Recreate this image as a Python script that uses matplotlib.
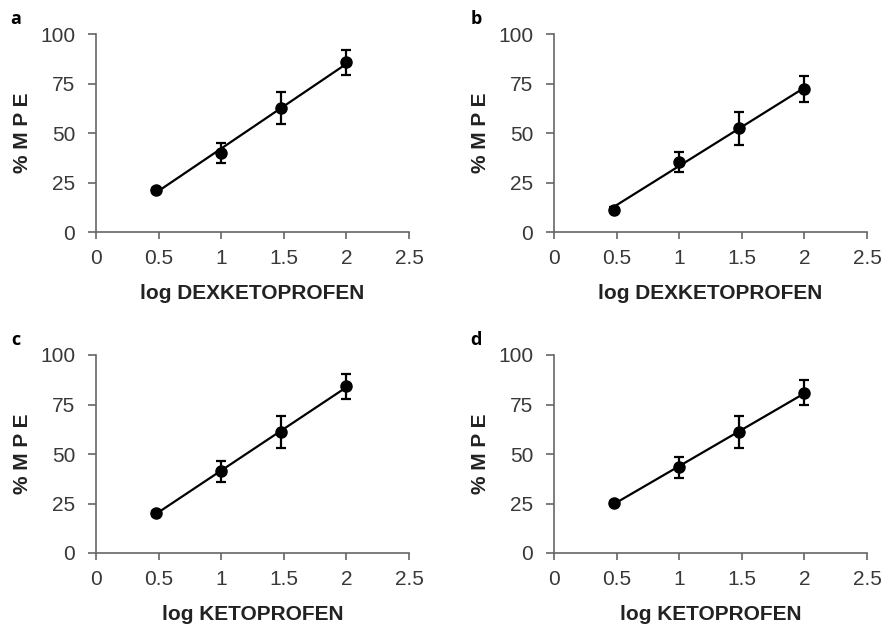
import numpy as np
import matplotlib
matplotlib.use("Agg")
import matplotlib.pyplot as plt

plt.rcParams['font.family'] = ['Liberation Sans', 'DejaVu Sans']

# log dose
dosis = [0.477, 1.0, 1.477, 2.0]

# %MPE por panel (media y error)
mpe_a = [21.2, 40.0, 62.5, 85.7]
err_a = [1.2, 5.2, 8.0, 6.2]
mpe_b = [11.3, 35.4, 52.3, 72.1]
err_b = [1.2, 5.0, 8.2, 6.5]
mpe_c = [20.1, 41.2, 61.2, 84.2]
err_c = [1.2, 5.1, 8.2, 6.2]
mpe_d = [25.2, 43.2, 61.2, 81.0]
err_d = [1.2, 5.2, 8.2, 6.2]

letras = ['a', 'b', 'c', 'd']
xlabels = ['log DEXKETOPROFEN', 'log DEXKETOPROFEN', 'log KETOPROFEN', 'log KETOPROFEN']
xticks = [0, 0.5, 1, 1.5, 2, 2.5]
xtick_labels = ['0', '0.5', '1', '1.5', '2', '2.5']
yticks = [0, 25, 50, 75, 100]

datos = [(mpe_a, err_a), (mpe_b, err_b), (mpe_c, err_c), (mpe_d, err_d)]

W, H = 883, 627
fig = plt.figure(figsize=(W / 100, H / 100), dpi=100)

# posiciones en pixeles (izq, arriba)
posiciones = [(96, 34), (554, 34), (96, 355), (554, 355)]
ancho, alto = 313, 198
pos_letras = [(16, 19), (476, 19), (16, 340), (476, 340)]

gris = '#666666'
for i in range(4):
    izq, arr = posiciones[i]
    ax = fig.add_axes([izq / W, 1 - (arr + alto) / H, ancho / W, alto / H])
    y, e = datos[i]
    # recta de regresion
    m, b = np.polyfit(dosis, y, 1)
    xx = np.array([dosis[0], dosis[-1]])
    ax.plot(xx, m * xx + b, color='black', lw=1.6, zorder=2)
    ax.errorbar(dosis, y, yerr=e, fmt='o', color='black', ms=8,
                elinewidth=1.6, capsize=3.5, capthick=1.6, zorder=3)
    ax.set_xlim(0, 2.5)
    ax.set_ylim(0, 100)
    ax.set_xticks(xticks)
    ax.set_xticklabels(xtick_labels)
    ax.set_yticks(yticks)
    for s in ['top', 'right']:
        ax.spines[s].set_visible(False)
    for s in ['left', 'bottom']:
        ax.spines[s].set_color(gris)
        ax.spines[s].set_linewidth(1.2)
    ax.tick_params(axis='x', direction='out', length=5, width=1.2, color=gris,
                   labelsize=15, labelcolor='#383838', pad=7)
    ax.tick_params(axis='y', direction='out', length=6, width=1.2, color=gris,
                   labelsize=15, labelcolor='#383838', pad=9)
    ax.set_xlabel(xlabels[i], fontsize=15, fontweight='bold', color='#222222', labelpad=12)
    ax.set_ylabel('% M P E', fontsize=15, fontweight='bold', color='#222222', labelpad=6)
    lx, ly = pos_letras[i]
    fig.text(lx / W, 1 - ly / H, letras[i], fontsize=13, fontweight='bold',
             family=['Open Sans', 'DejaVu Sans'], ha='center', va='center')

fig.savefig('out.png', dpi=100)
